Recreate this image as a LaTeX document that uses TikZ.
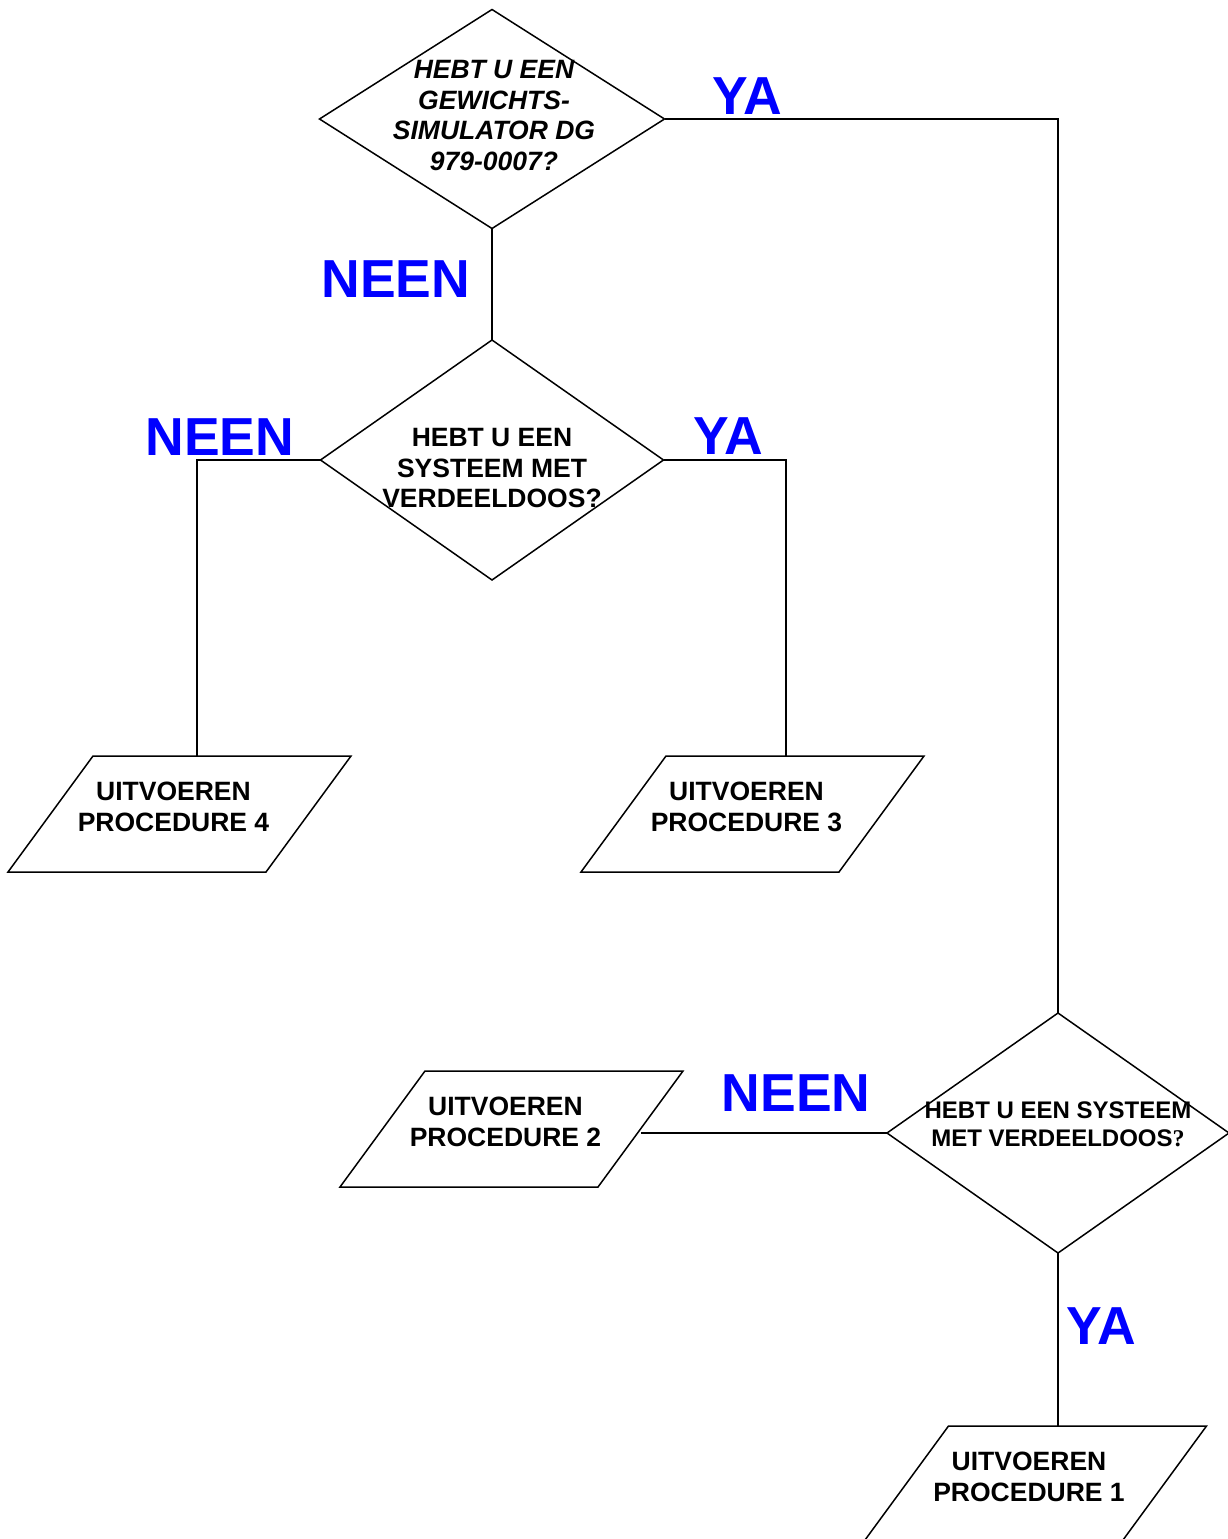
\documentclass[tikz,border=0pt]{standalone}
\usepackage{fontspec}
\setmainfont{Liberation Sans}
\newfontfamily\qmarkfont{Liberation Serif}
\usetikzlibrary{shapes.geometric}

\definecolor{ablue}{RGB}{0,0,255}

\tikzset{
  link/.style={line width=1.5pt},
  decision/.style={diamond, draw, line width=1.5pt, inner sep=0pt, outer sep=0pt},
  procbox/.style={rectangle, minimum width=258pt, minimum height=116pt,
    inner sep=0pt, outer sep=0pt,
    append after command={\pgfextra{\draw[link]
      ([xshift=42.5pt]\tikzlastnode.north west) -- ([xshift=42.5pt]\tikzlastnode.north east)
      -- ([xshift=-42.5pt]\tikzlastnode.south east) -- ([xshift=-42.5pt]\tikzlastnode.south west)
      -- cycle;}}},
  qtext/.style={align=center, inner sep=0pt, font=\fontsize{26.5}{30.5}\selectfont\bfseries},
  answer/.style={text=ablue, inner sep=0pt, font=\fontsize{53.5}{60}\selectfont\bfseries}
}

\begin{document}
\begin{tikzpicture}[x=1pt, y=-1pt]
	\useasboundingbox (0,0) rectangle (1228,1539);

	% questions
	\node[decision, minimum width=345pt, minimum height=219pt,
	  label={[qtext, font=\fontsize{26.5}{30.5}\selectfont\bfseries\itshape, xshift=2pt, yshift=3.5pt]center:{HEBT U EEN\\GEWICHTS-\\SIMULATOR DG\\979-0007?}}]
	  (d1) at (492,119) {};
	\node[decision, minimum width=343pt, minimum height=240pt,
	  label={[qtext, yshift=-8.5pt]center:{HEBT U EEN\\SYSTEEM MET\\VERDEELDOOS?}}]
	  (d2) at (492,460) {};
	\node[decision, minimum width=342pt, minimum height=240pt,
	  label={[qtext, font=\fontsize{24}{28}\selectfont\bfseries, yshift=9pt]center:{HEBT U EEN SYSTEEM\\MET VERDEELDOOS{\qmarkfont ?}}}]
	  (d3) at (1058,1133) {};

	% procedures
	\node[procbox, label={[qtext, xshift=-6pt, yshift=7pt]center:{UITVOEREN\\PROCEDURE 4}}] (p4) at (179.5,814) {};
	\node[procbox, label={[qtext, xshift=-6pt, yshift=7pt]center:{UITVOEREN\\PROCEDURE 3}}] (p3) at (752.5,814) {};
	\node[procbox, label={[qtext, xshift=-6pt, yshift=7pt]center:{UITVOEREN\\PROCEDURE 2}}] (p2) at (511.5,1129) {};
	\node[procbox, label={[qtext, xshift=-6pt, yshift=7pt]center:{UITVOEREN\\PROCEDURE 1}}] (p1) at (1035,1484) {};

	% connections
	\draw[link] (d1.east) -| (d3.north);
	\draw[link] (d1.south) -- (d2.north);
	\draw[link] (d2.west) -| ([xshift=17.5pt]p4.north);
	\draw[link] (d2.east) -| ([xshift=33.5pt]p3.north);
	\draw[link] (d3.west) -- (d3.west -| p2.east);
	\draw[link] (d3.south) -- ([xshift=23pt]p1.north);

	% answers
	\node[answer] (ya1) at (747,96) {YA};
	\node[answer] (neen1) at (396,279) {NEEN};
	\node[answer] (neen2) at (220,437) {NEEN};
	\node[answer] (ya2) at (728,436) {YA};
	\node[answer] (neen3) at (796,1093) {NEEN};
	\node[answer] (ya3) at (1101,1326) {YA};

\end{tikzpicture}
\end{document}
